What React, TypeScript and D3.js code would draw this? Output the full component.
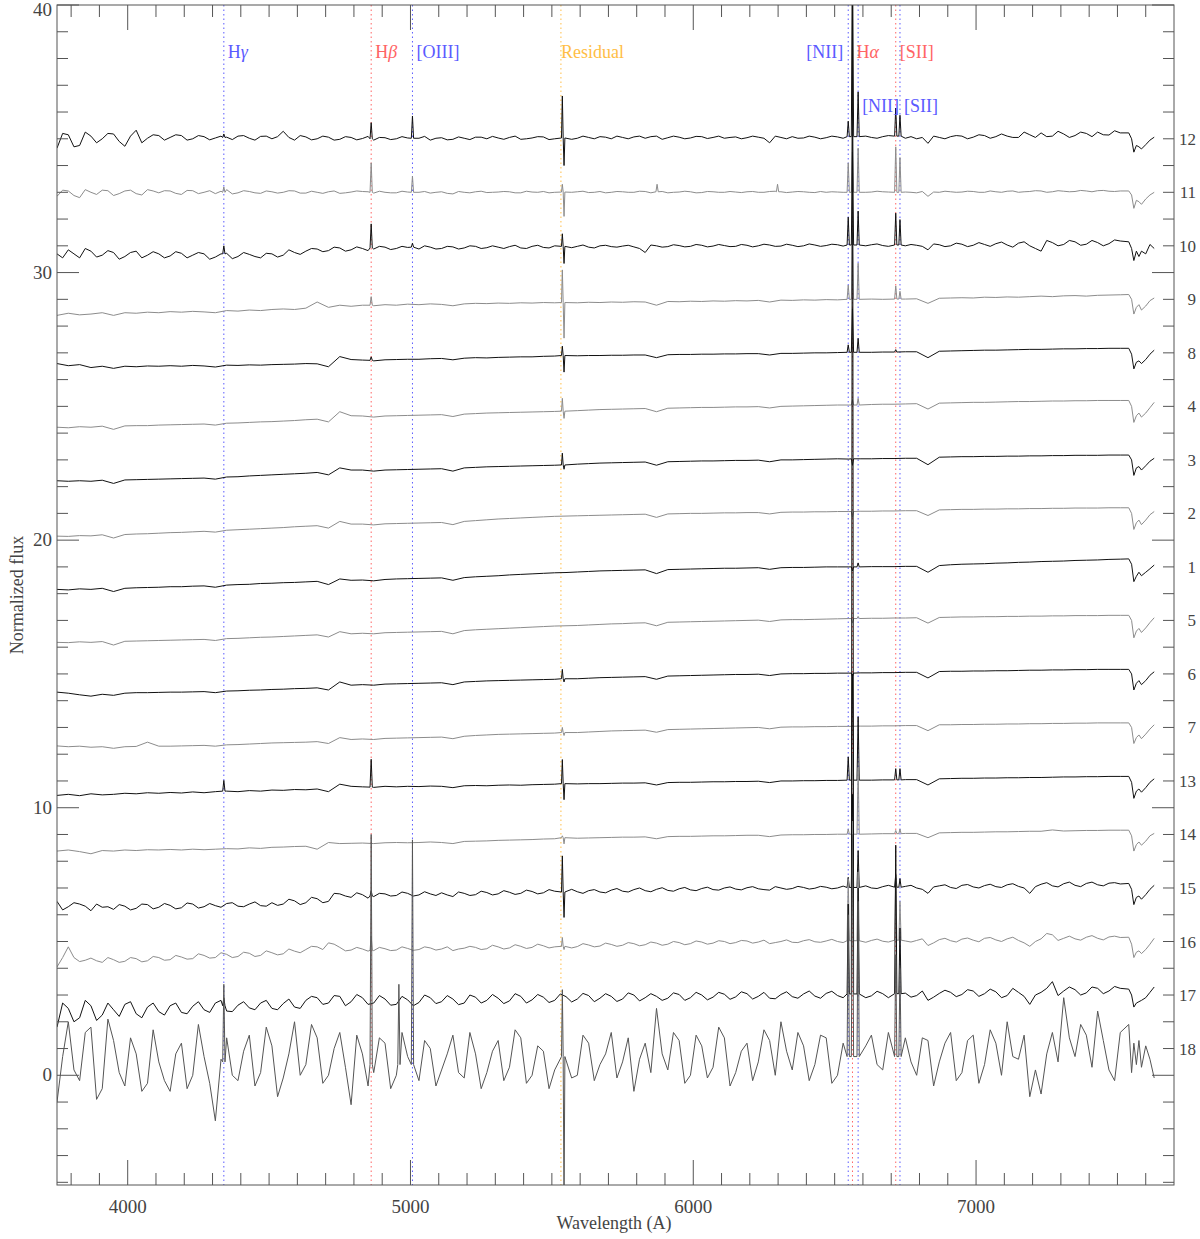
import React from "react";
import * as d3 from "d3";

// wavelength grid (Angstrom) shared by all spectra
const WAVE = [3750,3790,3830,3870,3910,3950,3990,4030,4070,4110,
4150,4190,4230,4270,4310,4350,4390,4430,4470,4510,
4550,4590,4630,4670,4710,4750,4790,4830,4870,4910,
4950,4990,5030,5070,5110,5150,5190,5230,5270,5310,
5350,5390,5430,5470,5510,5550,5590,5630,5670,5710,
5750,5790,5830,5870,5910,5950,5990,6030,6070,6110,
6150,6190,6230,6270,6310,6350,6390,6430,6470,6510,
6550,6590,6630,6670,6710,6750,6790,6830,6870,6910,
6950,6990,7030,7070,7110,7150,7190,7230,7270,7310,
7350,7390,7430,7470,7510,
7540,7550,7558,7567,7576,7585,7600,7615,7630];

// intermediate wavelengths used by the noisier spectra
const WAVE_MID = [3770,3810,3850,3890,3930,3970,4010,4050,4090,4130,
4170,4210,4250,4290,4330,4370,4410,4450,4490,4530,
4570,4610,4650,4690,4730,4770,4810,4850,4890,4930,
4970,5010,5050,5090,5130,5170,5210,5250,5290,5330,
5370,5410,5450,5490,5530,5570,5610,5650,5690,5730,
5770,5810,5850,5890,5930,5970,6010,6050,6090,6130,
6170,6210,6250,6290,6330,6370,6410,6450,6490,6530,
6570,6610,6650,6690,6730,6770,6810,6850,6890,6930,
6970,7010,7050,7090,7130,7170,7210,7250,7290,7330,
7370,7410,7450,7490];

// flux relative to each spectrum's offset
const S12 = [-0.35,0.15,-0.25,0.1,0.0,0.18,-0.28,0.32,0.02,0.12,
0.05,0.12,0.0,0.08,0.03,0.06,0.1,0.02,0.09,0.0,
0.28,-0.05,0.07,0.0,0.06,-0.02,0.05,0.01,-0.05,0.04,
0.0,0.03,0.02,-0.05,0.04,-0.02,0.02,0.06,0.0,0.03,
0.05,-0.02,0.03,0.07,0.0,0.04,0.02,0.05,0.08,0.0,
0.05,0.07,0.02,0.1,0.04,0.06,0.03,0.08,0.05,0.02,
0.07,0.04,0.06,-0.15,0.05,0.08,0.03,0.06,0.04,0.07,
0.08,0.06,0.05,0.08,0.1,0.02,0.0,-0.17,0.05,0.08,
0.1,0.06,0.12,0.08,0.1,0.05,0.15,0.22,0.1,0.18,
0.12,0.2,0.25,0.14,0.22,
0.22,0.0,-0.5,-0.25,-0.3,-0.38,-0.22,-0.05,0.06];
const M12 = [0.2,-0.3,0.25,-0.15,0.2,-0.1,0.1,-0.15,0.15,-0.05,
0.15,-0.05,0.12,-0.04,0.1,-0.03,0.12,-0.05,0.1,0.08,
0.05,0.12,-0.04,0.1,-0.05,0.08,-0.04,0.09,0.05,-0.03,
0.08,-0.04,0.09,0.02,-0.04,0.07,-0.03,0.06,0.09,-0.02,
0.1,0.0,0.08,-0.03,0.09,-0.02,0.1,0.0,0.06,0.1,
0.0,0.1,0.08,-0.02,0.1,0.0,0.09,0.01,0.1,0.05,
0.0,0.1,0.02,0.1,0.0,0.02,0.1,0.0,0.1,0.02,
0.0,0.1,0.02,0.12,0.06,0.08,0.05,0.1,0.0,0.12,
0.0,0.15,0.02,0.18,0.05,0.25,0.05,0.08,0.28,0.05,
0.25,0.08,0.15,0.3];
const S11 = [-0.15,0.05,-0.2,0.0,0.08,-0.12,0.05,-0.05,0.1,-0.02,
0.05,-0.08,0.06,0.0,-0.05,0.1,-0.02,0.03,-0.04,0.02,
0.0,0.05,-0.03,0.0,0.02,-0.04,0.01,0.03,-0.03,0.0,
-0.02,0.01,0.0,-0.03,0.02,-0.06,0.0,0.02,-0.01,0.01,
0.02,-0.02,0.01,0.03,0.0,0.01,0.02,-0.01,0.03,0.0,
0.02,0.0,0.03,0.02,-0.02,0.01,0.02,-0.01,0.02,0.0,
0.01,0.02,0.0,0.03,0.02,0.01,0.02,-0.01,0.0,0.01,
0.02,0.0,0.01,0.02,0.0,0.01,-0.02,-0.15,0.0,0.02,
0.01,0.03,0.0,0.02,0.04,0.0,0.03,0.05,0.02,0.04,
0.03,0.05,0.06,0.04,0.05,
0.05,-0.1,-0.6,-0.3,-0.35,-0.45,-0.25,-0.1,0.0];
const M11 = [0.08,-0.12,0.1,-0.08,0.06,-0.05,0.08,-0.1,0.05,0.06,
-0.04,0.07,-0.05,0.06,0.04,-0.06,0.06,-0.02,0.05,-0.03,
0.06,-0.03,0.04,-0.04,0.05,-0.02,0.05,0.02,0.04,-0.02,
0.04,-0.02,0.03,0.0,-0.04,0.03,-0.02,0.04,0.0,0.03,
-0.02,0.04,0.0,-0.02,0.03,0.0,0.04,0.0,-0.02,0.03,
0.0,0.04,-0.02,0.03,0.0,0.04,-0.02,0.03,0.0,0.03,
-0.01,0.03,0.0,0.04,-0.01,0.03,0.0,0.03,0.02,0.0,
0.03,0.0,0.04,0.01,0.03,0.0,0.03,0.01,0.04,0.0,
0.04,0.0,0.05,0.0,0.05,0.02,0.06,0.0,0.06,0.02,
0.07,0.02,0.07,0.03];
const S10 = [-0.3,-0.15,-0.45,-0.2,-0.35,-0.25,-0.4,-0.2,-0.35,-0.3,
-0.38,-0.28,-0.35,-0.3,-0.42,-0.28,-0.4,-0.32,-0.45,-0.3,
-0.35,-0.25,-0.2,-0.12,-0.18,-0.08,-0.15,-0.1,-0.12,-0.05,
-0.1,-0.06,-0.12,-0.05,-0.1,-0.04,-0.08,-0.02,-0.07,-0.05,
-0.03,-0.08,-0.02,-0.06,0.0,-0.04,-0.02,-0.05,0.0,-0.03,
-0.01,-0.04,-0.25,0.0,-0.03,0.01,-0.02,0.02,-0.01,0.01,
-0.02,0.02,0.0,0.03,-0.01,0.02,0.0,0.03,0.01,0.04,
0.03,0.02,0.04,0.01,0.03,0.0,0.02,-0.15,0.04,0.0,
0.06,0.02,0.05,0.08,0.03,0.1,0.0,-0.2,0.12,0.05,
0.15,0.06,0.12,0.08,0.18,
0.15,-0.1,-0.55,-0.2,-0.4,-0.2,-0.3,0.05,-0.1];
const M10 = [-0.45,-0.3,-0.1,-0.42,-0.18,-0.5,-0.25,-0.45,-0.22,-0.45,
-0.22,-0.45,-0.25,-0.5,-0.3,-0.48,-0.25,-0.4,-0.28,-0.42,
-0.15,-0.32,-0.1,-0.22,-0.05,-0.2,-0.04,-0.18,-0.02,-0.14,
-0.02,-0.14,0.0,-0.12,-0.02,-0.12,0.0,-0.1,0.0,-0.1,
0.02,-0.1,0.02,-0.08,0.03,-0.07,0.03,-0.08,0.02,-0.05,
0.02,-0.1,0.03,-0.05,0.04,-0.04,0.05,-0.04,0.05,-0.03,
0.05,-0.04,0.06,-0.02,0.06,-0.03,0.07,-0.02,0.06,-0.01,
0.06,0.0,0.07,-0.02,0.06,0.05,-0.02,0.07,-0.03,0.1,
-0.03,0.12,-0.02,0.14,-0.05,0.15,-0.1,0.2,0.0,0.2,
0.02,0.2,0.0,0.22];
const S9 = [-0.6,-0.52,-0.58,-0.55,-0.5,-0.6,-0.5,-0.52,-0.48,-0.5,
-0.46,-0.48,-0.45,-0.47,-0.5,-0.42,-0.44,-0.4,-0.42,-0.38,
-0.36,-0.38,-0.33,-0.1,-0.3,-0.22,-0.26,-0.22,-0.24,-0.2,
-0.22,-0.18,-0.2,-0.17,-0.19,-0.24,-0.17,-0.15,-0.16,-0.14,
-0.15,-0.13,-0.14,-0.12,-0.13,-0.12,-0.13,-0.11,-0.12,-0.1,
-0.11,-0.09,-0.1,-0.22,-0.08,-0.09,-0.07,-0.08,-0.06,-0.07,
-0.05,-0.06,-0.04,-0.1,-0.03,-0.04,-0.02,-0.03,-0.01,-0.02,
0.0,0.0,0.01,0.0,0.02,0.01,0.02,-0.15,0.04,0.05,
0.06,0.05,0.08,0.07,0.09,0.08,0.1,0.12,0.1,0.13,
0.14,0.12,0.15,0.16,0.17,
0.18,0.0,-0.55,-0.3,-0.2,-0.4,-0.25,-0.05,0.05];
const S8 = [-0.4,-0.48,-0.44,-0.55,-0.5,-0.58,-0.5,-0.52,-0.49,-0.5,
-0.48,-0.5,-0.47,-0.49,-0.53,-0.46,-0.47,-0.45,-0.46,-0.44,
-0.43,-0.42,-0.4,-0.41,-0.52,-0.14,-0.25,-0.27,-0.3,-0.26,
-0.25,-0.24,-0.24,-0.22,-0.21,-0.26,-0.2,-0.18,-0.19,-0.17,
-0.16,-0.15,-0.15,-0.13,-0.12,-0.12,-0.11,-0.1,-0.1,-0.09,
-0.09,-0.08,-0.08,-0.18,-0.07,-0.06,-0.06,-0.05,-0.05,-0.04,
-0.04,-0.03,-0.03,-0.08,-0.02,-0.02,-0.01,0.0,0.0,0.01,
0.01,0.02,0.02,0.03,0.03,0.04,0.04,-0.18,0.06,0.07,
0.08,0.09,0.1,0.1,0.11,0.12,0.13,0.13,0.14,0.15,
0.15,0.16,0.16,0.17,0.17,
0.17,-0.05,-0.6,-0.35,-0.3,-0.4,-0.25,-0.05,0.1];
const S4 = [-0.78,-0.8,-0.76,-0.78,-0.74,-0.86,-0.73,-0.72,-0.72,-0.7,
-0.69,-0.68,-0.67,-0.66,-0.7,-0.63,-0.62,-0.6,-0.58,-0.57,
-0.55,-0.53,-0.5,-0.48,-0.58,-0.2,-0.35,-0.36,-0.4,-0.36,
-0.35,-0.34,-0.33,-0.32,-0.31,-0.38,-0.29,-0.27,-0.25,-0.24,
-0.23,-0.22,-0.21,-0.2,-0.19,-0.18,-0.16,-0.14,-0.12,-0.11,
-0.1,-0.09,-0.08,-0.2,-0.07,-0.06,-0.05,-0.04,-0.04,-0.03,
-0.02,-0.02,-0.01,-0.06,0.0,0.01,0.02,0.03,0.04,0.05,
0.05,0.06,0.07,0.08,0.08,0.09,0.1,-0.1,0.12,0.13,
0.14,0.15,0.15,0.16,0.17,0.18,0.18,0.19,0.2,0.2,
0.21,0.21,0.22,0.22,0.22,
0.22,0.0,-0.6,-0.35,-0.25,-0.4,-0.25,-0.05,0.15];
const S3 = [-0.78,-0.8,-0.78,-0.8,-0.76,-0.88,-0.75,-0.74,-0.73,-0.72,
-0.71,-0.7,-0.69,-0.68,-0.72,-0.64,-0.63,-0.6,-0.58,-0.56,
-0.54,-0.52,-0.5,-0.47,-0.56,-0.3,-0.38,-0.38,-0.42,-0.38,
-0.37,-0.36,-0.35,-0.34,-0.33,-0.42,-0.3,-0.28,-0.26,-0.25,
-0.24,-0.23,-0.22,-0.21,-0.2,-0.18,-0.16,-0.14,-0.12,-0.11,
-0.1,-0.09,-0.08,-0.2,-0.07,-0.06,-0.05,-0.04,-0.04,-0.03,
-0.02,-0.02,-0.01,-0.07,0.0,0.0,0.01,0.02,0.03,0.04,
0.03,0.04,0.04,0.05,0.05,0.06,0.06,-0.18,0.1,0.11,
0.12,0.12,0.13,0.13,0.14,0.14,0.15,0.15,0.16,0.16,
0.17,0.17,0.17,0.18,0.18,
0.18,0.0,-0.58,-0.3,-0.25,-0.38,-0.22,-0.05,0.06];
const S2 = [-0.85,-0.86,-0.83,-0.84,-0.8,-0.92,-0.79,-0.77,-0.76,-0.74,
-0.72,-0.71,-0.69,-0.67,-0.7,-0.63,-0.61,-0.59,-0.57,-0.55,
-0.53,-0.5,-0.48,-0.46,-0.55,-0.3,-0.4,-0.4,-0.43,-0.39,
-0.38,-0.37,-0.36,-0.35,-0.34,-0.42,-0.3,-0.27,-0.24,-0.21,
-0.19,-0.17,-0.15,-0.13,-0.11,-0.1,-0.09,-0.08,-0.07,-0.06,
-0.05,-0.04,-0.03,-0.15,-0.02,-0.01,0.0,0.0,0.01,0.02,
0.02,0.03,0.03,-0.02,0.04,0.05,0.05,0.06,0.06,0.07,
0.07,0.08,0.08,0.09,0.09,0.1,0.1,-0.08,0.13,0.14,
0.15,0.15,0.16,0.16,0.17,0.17,0.18,0.18,0.19,0.19,
0.2,0.2,0.2,0.21,0.21,
0.21,0.0,-0.6,-0.35,-0.25,-0.42,-0.25,-0.05,0.07];
const S1 = [-0.84,-0.86,-0.82,-0.84,-0.8,-0.92,-0.8,-0.78,-0.77,-0.76,
-0.74,-0.74,-0.72,-0.71,-0.76,-0.68,-0.66,-0.65,-0.62,-0.61,
-0.59,-0.58,-0.56,-0.54,-0.66,-0.45,-0.5,-0.49,-0.52,-0.47,
-0.45,-0.44,-0.43,-0.42,-0.41,-0.5,-0.4,-0.37,-0.35,-0.33,
-0.3,-0.28,-0.26,-0.24,-0.22,-0.21,-0.19,-0.17,-0.15,-0.14,
-0.13,-0.12,-0.11,-0.25,-0.1,-0.09,-0.08,-0.07,-0.06,-0.05,
-0.05,-0.04,-0.03,-0.09,-0.03,-0.02,-0.02,-0.01,0.0,0.0,
0.0,0.0,0.01,0.01,0.01,0.02,0.02,-0.2,0.05,0.08,
0.1,0.11,0.12,0.14,0.15,0.17,0.18,0.2,0.21,0.22,
0.24,0.25,0.26,0.28,0.29,
0.3,0.1,-0.55,-0.35,-0.2,-0.33,-0.2,-0.07,0.07];
const S5 = [-0.82,-0.83,-0.8,-0.82,-0.79,-0.92,-0.78,-0.77,-0.76,-0.75,
-0.74,-0.73,-0.72,-0.71,-0.75,-0.68,-0.67,-0.65,-0.63,-0.62,
-0.6,-0.58,-0.56,-0.54,-0.62,-0.42,-0.5,-0.48,-0.5,-0.46,
-0.45,-0.44,-0.43,-0.42,-0.41,-0.5,-0.38,-0.35,-0.33,-0.31,
-0.29,-0.27,-0.25,-0.23,-0.21,-0.2,-0.19,-0.17,-0.15,-0.13,
-0.12,-0.1,-0.09,-0.2,-0.07,-0.06,-0.05,-0.04,-0.03,-0.02,
-0.01,0.0,0.01,-0.04,0.02,0.03,0.03,0.04,0.05,0.06,
0.07,0.07,0.08,0.08,0.09,0.09,0.1,-0.1,0.11,0.12,
0.13,0.13,0.14,0.14,0.15,0.15,0.16,0.16,0.17,0.17,
0.18,0.18,0.18,0.19,0.19,
0.19,0.0,-0.65,-0.4,-0.3,-0.45,-0.28,-0.08,0.1];
const S6 = [-0.68,-0.72,-0.78,-0.83,-0.76,-0.8,-0.72,-0.7,-0.7,-0.69,
-0.68,-0.68,-0.67,-0.66,-0.7,-0.64,-0.63,-0.61,-0.6,-0.58,
-0.57,-0.55,-0.54,-0.52,-0.6,-0.3,-0.42,-0.4,-0.42,-0.38,
-0.37,-0.36,-0.35,-0.34,-0.33,-0.4,-0.3,-0.28,-0.26,-0.25,
-0.24,-0.23,-0.22,-0.21,-0.2,-0.19,-0.18,-0.16,-0.14,-0.13,
-0.12,-0.11,-0.1,-0.2,-0.08,-0.07,-0.06,-0.05,-0.04,-0.03,
-0.02,-0.02,-0.01,-0.06,0.0,0.01,0.01,0.02,0.02,0.03,
0.03,0.04,0.04,0.05,0.05,0.06,0.06,-0.15,0.09,0.1,
0.1,0.11,0.11,0.12,0.12,0.13,0.14,0.14,0.15,0.15,
0.16,0.16,0.17,0.17,0.17,
0.17,0.0,-0.6,-0.35,-0.25,-0.4,-0.25,-0.05,0.08];
const S7 = [-0.69,-0.72,-0.7,-0.74,-0.72,-0.78,-0.72,-0.71,-0.55,-0.7,
-0.7,-0.69,-0.68,-0.67,-0.7,-0.65,-0.64,-0.62,-0.6,-0.58,
-0.57,-0.56,-0.55,-0.53,-0.6,-0.38,-0.45,-0.43,-0.45,-0.41,
-0.4,-0.39,-0.38,-0.37,-0.36,-0.42,-0.33,-0.3,-0.28,-0.26,
-0.25,-0.24,-0.23,-0.22,-0.21,-0.2,-0.19,-0.17,-0.15,-0.13,
-0.12,-0.11,-0.1,-0.18,-0.08,-0.07,-0.06,-0.05,-0.04,-0.03,
-0.02,-0.01,0.0,-0.05,0.01,0.02,0.02,0.03,0.03,0.04,
0.04,0.05,0.05,0.06,0.06,0.07,0.07,-0.12,0.1,0.1,
0.11,0.11,0.12,0.12,0.13,0.13,0.14,0.14,0.15,0.15,
0.16,0.16,0.17,0.17,0.17,
0.17,0.0,-0.6,-0.38,-0.28,-0.42,-0.25,-0.06,0.1];
const S13 = [-0.54,-0.5,-0.55,-0.48,-0.52,-0.5,-0.46,-0.48,-0.44,-0.46,
-0.43,-0.45,-0.41,-0.44,-0.4,-0.38,-0.4,-0.36,-0.38,-0.34,
-0.35,-0.32,-0.33,-0.3,-0.4,-0.12,-0.2,-0.22,-0.24,-0.2,
-0.22,-0.2,-0.21,-0.19,-0.2,-0.25,-0.18,-0.17,-0.18,-0.16,
-0.15,-0.16,-0.14,-0.13,-0.12,-0.12,-0.11,-0.1,-0.1,-0.09,
-0.08,-0.08,-0.07,-0.15,-0.06,-0.05,-0.05,-0.04,-0.03,-0.03,
-0.02,-0.02,-0.01,-0.06,0.0,0.0,0.01,0.01,0.02,0.02,
0.02,0.03,0.03,0.04,0.04,0.05,0.05,-0.15,0.08,0.09,
0.1,0.1,0.11,0.11,0.12,0.12,0.13,0.13,0.14,0.15,
0.15,0.16,0.16,0.17,0.17,
0.17,-0.05,-0.65,-0.38,-0.3,-0.42,-0.25,-0.05,0.08];
const S14 = [-0.62,-0.58,-0.64,-0.72,-0.6,-0.62,-0.58,-0.6,-0.57,-0.58,
-0.56,-0.58,-0.55,-0.57,-0.55,-0.53,-0.54,-0.5,-0.52,-0.48,
-0.47,-0.45,-0.44,-0.55,-0.3,-0.34,-0.33,-0.32,-0.34,-0.31,
-0.3,-0.31,-0.3,-0.28,-0.3,-0.34,-0.26,-0.25,-0.24,-0.22,
-0.21,-0.2,-0.19,-0.17,-0.16,-0.15,-0.14,-0.13,-0.12,-0.11,
-0.1,-0.1,-0.09,-0.16,-0.08,-0.07,-0.07,-0.06,-0.05,-0.05,
-0.04,-0.03,-0.03,-0.08,-0.02,-0.01,-0.01,0.0,0.0,0.01,
0.01,0.02,0.02,0.03,0.03,0.04,0.04,-0.12,0.06,0.07,
0.08,0.08,0.09,0.1,0.1,0.11,0.12,0.12,0.17,0.13,
0.14,0.15,0.15,0.16,0.16,
0.16,-0.05,-0.62,-0.38,-0.28,-0.4,-0.25,-0.05,0.04];
const S15 = [-0.5,-0.7,-0.6,-0.85,-0.72,-0.8,-0.68,-0.76,-0.62,-0.72,
-0.65,-0.74,-0.6,-0.7,-0.66,-0.58,-0.68,-0.6,-0.66,-0.55,
-0.6,-0.48,-0.55,-0.4,-0.5,-0.22,-0.35,-0.25,-0.32,-0.22,
-0.28,-0.2,-0.26,-0.22,-0.18,-0.32,-0.2,-0.25,-0.17,-0.22,
-0.16,-0.2,-0.13,-0.18,-0.12,-0.17,-0.14,-0.1,-0.15,-0.08,
-0.12,-0.06,-0.1,-0.05,-0.09,-0.03,-0.07,-0.02,-0.06,0.0,
-0.04,0.01,-0.03,-0.08,0.0,-0.02,0.02,-0.01,0.03,0.0,
0.02,0.04,0.0,0.05,0.02,0.06,0.0,-0.2,0.08,0.02,
0.1,0.04,0.09,0.05,0.12,0.06,-0.2,0.14,0.08,0.16,
0.1,0.17,0.12,0.18,0.15,
0.17,-0.05,-0.62,-0.35,-0.3,-0.42,-0.25,-0.05,0.1];
const M15 = [-0.82,-0.55,-0.68,-0.6,-0.7,-0.62,-0.82,-0.6,-0.78,-0.58,
-0.78,-0.56,-0.75,-0.58,-0.72,-0.55,-0.7,-0.52,-0.68,-0.65,
-0.42,-0.62,-0.35,-0.55,-0.2,-0.3,-0.18,-0.38,-0.2,-0.3,
-0.15,-0.3,-0.14,-0.28,-0.26,-0.15,-0.28,-0.12,-0.26,-0.1,
-0.24,-0.08,-0.22,-0.06,-0.2,-0.05,-0.2,-0.06,-0.18,-0.02,
-0.15,0.0,-0.14,0.01,-0.12,0.02,-0.1,0.03,-0.08,0.04,
-0.07,0.05,-0.06,0.05,-0.05,0.06,-0.04,0.06,-0.03,0.07,
-0.03,0.08,-0.02,0.1,-0.02,0.1,-0.05,0.04,0.12,-0.02,
0.13,0.0,0.14,0.02,0.16,0.0,0.05,0.2,0.04,0.22,
0.05,0.22,0.08,0.2];
const S16 = [-0.95,-0.2,-0.75,-0.62,-0.78,-0.68,-0.74,-0.64,-0.72,-0.6,
-0.68,-0.58,-0.64,-0.52,-0.6,-0.48,-0.56,-0.44,-0.52,-0.42,
-0.46,-0.36,-0.3,-0.2,-0.05,-0.22,-0.32,-0.28,-0.34,-0.27,
-0.32,-0.26,-0.3,-0.24,-0.28,-0.34,-0.25,-0.22,-0.27,-0.2,
-0.24,-0.18,-0.22,-0.16,-0.2,-0.15,-0.19,-0.13,-0.17,-0.11,
-0.14,-0.08,-0.12,-0.06,-0.1,-0.04,-0.08,-0.02,-0.06,0.0,
-0.04,0.02,-0.02,-0.08,0.0,-0.03,0.03,-0.01,0.02,0.0,
0.03,0.0,0.04,0.01,0.05,0.02,0.04,-0.15,0.07,0.03,
0.09,0.05,0.12,0.06,0.1,0.04,-0.18,0.1,0.25,0.12,
0.1,0.16,0.12,0.17,0.15,
0.16,-0.1,-0.6,-0.4,-0.35,-0.45,-0.3,-0.1,0.12];
const M16 = [-0.6,-0.6,-0.7,-0.72,-0.6,-0.78,-0.6,-0.76,-0.56,-0.7,
-0.52,-0.66,-0.46,-0.62,-0.42,-0.6,-0.4,-0.56,-0.35,-0.5,
-0.28,-0.42,-0.18,-0.3,-0.1,-0.35,-0.22,-0.36,-0.22,-0.34,
-0.2,-0.33,-0.2,-0.32,-0.2,-0.28,-0.18,-0.3,-0.14,-0.28,
-0.12,-0.26,-0.1,-0.24,-0.1,-0.24,-0.08,-0.2,-0.06,-0.18,
-0.04,-0.16,-0.02,-0.14,0.0,-0.12,0.02,-0.1,0.03,-0.08,
0.04,-0.06,0.05,-0.04,0.06,-0.04,0.07,-0.03,0.08,-0.04,
0.08,-0.03,0.09,-0.02,0.09,-0.02,0.1,-0.05,0.12,-0.02,
0.13,-0.01,0.15,0.0,0.16,-0.05,0.0,0.3,0.04,0.2,
0.05,0.22,0.06,0.2];
const S17 = [-1.2,-0.5,-0.85,-0.4,-0.75,-0.55,-0.35,-0.7,-0.45,-0.62,
-0.4,-0.65,-0.42,-0.55,-0.3,-0.6,-0.38,-0.48,-0.3,-0.5,
-0.32,-0.45,-0.2,-0.1,-0.3,-0.05,-0.25,-0.1,-0.3,-0.15,
-0.35,-0.18,-0.28,-0.1,-0.25,-0.15,-0.3,-0.08,-0.2,-0.12,
-0.22,-0.05,-0.18,-0.08,-0.2,-0.06,-0.15,-0.02,-0.12,-0.05,
-0.15,0.0,-0.1,-0.05,-0.12,0.02,-0.1,0.0,-0.08,0.03,
-0.07,0.05,-0.05,-0.12,0.02,-0.06,0.04,-0.04,0.06,-0.02,
0.04,0.05,-0.03,0.05,0.0,0.07,-0.02,-0.2,0.06,0.1,
0.02,0.15,0.05,0.12,-0.02,0.1,-0.35,0.1,0.5,0.15,
0.2,0.08,0.25,0.15,0.25,
0.22,0.0,-0.45,-0.3,-0.25,-0.2,-0.1,0.1,0.3];
const M17 = [-0.3,-1.0,-0.2,-0.95,-0.3,-0.8,-0.25,-0.85,-0.3,-0.75,
-0.3,-0.7,-0.25,-0.65,-0.2,-0.62,-0.25,-0.55,-0.2,-0.55,
-0.15,-0.5,-0.05,-0.35,-0.02,-0.4,0.02,-0.35,-0.02,-0.38,
-0.05,-0.4,0.0,-0.32,-0.02,-0.36,0.0,-0.3,0.02,-0.32,
0.05,-0.3,0.02,-0.28,0.04,-0.26,0.06,-0.25,0.05,-0.24,
0.08,-0.22,0.05,-0.2,0.08,-0.2,0.1,-0.18,0.1,-0.16,
0.12,-0.15,0.1,-0.14,0.12,-0.12,0.15,-0.12,0.14,-0.1,
0.15,-0.1,0.14,-0.1,0.16,-0.08,0.15,-0.08,0.18,-0.06,
0.2,-0.05,0.22,-0.1,0.25,-0.05,0.0,0.25,-0.02,0.3,
0.0,0.3,0.05,0.32];
const S18 = [-2.0,1.0,-1.2,0.8,-1.5,0.3,-1.4,-0.2,-1.3,-0.5,
-1.6,0.2,-1.0,-0.3,-2.7,0.4,-1.2,0.5,-0.9,0.1,
-1.1,1.0,-0.6,0.4,-1.0,0.6,-2.1,-0.2,-0.9,0.2,
-1.0,-0.3,-1.2,0.0,-0.8,0.5,-1.1,-0.2,-0.9,0.3,
-0.7,0.4,-1.0,-0.1,-0.8,0.5,-1.0,0.2,-0.6,0.6,
-0.5,-1.6,0.2,1.5,-0.8,0.3,-1.0,0.1,-0.7,0.4,
-0.9,0.2,-0.5,0.3,1.0,-0.8,0.1,-0.6,0.4,-1.0,
-0.3,-0.9,0.5,-0.8,0.2,0.4,-1.0,0.3,-0.5,0.6,
-0.9,0.5,-0.6,0.2,1.0,-0.4,-1.8,-1.7,0.6,1.9,
-0.3,0.5,1.4,-0.8,0.6,
0.9,-0.9,0.2,-0.6,0.3,-0.7,0.1,-0.4,-1.1];
const M18 = [-0.3,-0.8,0.6,-1.9,1.1,-0.9,0.4,-1.6,0.7,-1.2,
-0.2,-1.5,0.9,-1.3,-0.4,-1.0,-0.1,-1.4,0.8,-1.8,
-0.2,-1.0,0.9,-1.3,0.0,-0.7,0.5,-1.4,0.4,-1.5,
0.6,-1.6,0.3,-1.4,-0.2,-0.9,0.6,-1.5,-0.1,-1.2,
0.7,-1.3,0.1,-1.5,0.2,-1.1,0.5,-1.2,-0.2,-1.1,
0.4,-0.4,-0.9,-0.2,0.6,-1.3,0.5,-1.1,0.8,-1.4,
-0.1,-1.2,0.7,-1.0,-0.1,0.6,-1.2,0.5,-1.3,0.2,
-1.2,0.1,-0.6,0.6,-1.1,-0.5,0.4,-1.4,0.2,-1.2,
0.3,-1.3,0.7,-1.0,-0.3,0.5,-0.8,-0.2,-0.5,0.4,
0.9,-0.7,0.3,-1.2];

// emission features: [wavelength, local continuum, peak]
const L12 = [[4340,0.05,0.18],[4861,0.0,0.6],[5007,0.02,0.85],[5537,0.03,1.6],[5543,0.03,-1.0],[6548,0.08,0.66],[6563,0.08,7.0],[6583,0.08,1.75],[6716,0.1,1.15],[6731,0.1,0.88]];
const L11 = [[4340,0.0,0.2],[4861,0.0,1.1],[5007,0.0,0.6],[5537,0.01,0.3],[5543,0.01,-0.9],[5872,0.02,0.3],[6298,0.02,0.3],[6548,0.0,1.1],[6563,0.0,3.0],[6583,0.0,1.65],[6716,0.0,1.7],[6731,0.0,1.3]];
const L10 = [[4340,-0.3,0.0],[4861,-0.08,0.82],[5007,-0.05,0.1],[5537,-0.02,0.45],[5543,-0.02,-0.66],[6548,0.03,1.07],[6563,0.03,3.5],[6583,0.03,1.3],[6716,0.03,1.22],[6731,0.03,0.98]];
const L9 = [[4861,-0.22,0.1],[5537,-0.12,1.1],[5543,-0.12,-1.45],[6548,0.0,0.53],[6563,0.0,2.5],[6583,0.0,1.35],[6716,0.01,0.5],[6731,0.01,0.3]];
const L8 = [[4861,-0.28,-0.15],[5537,-0.1,0.25],[5543,-0.1,-0.72],[6548,0.02,0.3],[6563,0.02,1.65],[6583,0.02,0.54],[6716,0.03,0.12]];
const L4 = [[5537,-0.18,0.3],[5543,-0.18,-0.45],[6563,0.05,0.25],[6583,0.05,0.3]];
const L3 = [[5537,-0.19,0.25],[5543,-0.19,-0.35],[6563,0.04,-0.2]];
const L2 = [[6563,0.07,-0.15]];
const L1 = [[6563,0.0,-0.15],[6583,0.0,0.15]];
const L5 = [[6563,0.07,-0.1],[6583,0.07,0.15]];
const L6 = [[5537,-0.18,0.17],[5543,-0.18,-0.3],[6563,0.03,-0.1]];
const L7 = [[5537,-0.19,0.0],[5543,-0.19,-0.3]];
const L13 = [[4340,-0.38,0.02],[4861,-0.23,0.81],[5537,-0.1,0.8],[5543,-0.1,-0.7],[6548,0.03,0.9],[6563,0.03,4.0],[6583,0.03,2.4],[6716,0.04,0.46],[6731,0.04,0.46]];
const L14 = [[5537,-0.12,-0.05],[5543,-0.12,-0.35],[6548,0.01,0.2],[6563,0.01,3.0],[6583,0.01,2.5],[6716,0.03,0.15],[6731,0.03,0.2]];
const L15 = [[4861,-0.3,-0.1],[5537,-0.15,1.2],[5543,-0.15,-1.1],[6548,0.02,0.4],[6563,0.02,3.5],[6583,0.02,1.4],[6716,0.03,0.5],[6731,0.03,0.35]];
const L16 = [[4861,-0.33,0.2],[5537,-0.18,0.15],[5543,-0.18,-0.3],[6548,0.03,2.35],[6563,0.03,4.5],[6583,0.03,2.6],[6716,0.05,2.3],[6731,0.05,1.5]];
const L17 = [[4340,-0.4,-0.1],[6548,0.04,3.4],[6563,0.04,40],[6583,0.04,4.0],[6716,0.05,5.6],[6731,0.05,2.5]];
const L18 = [[4340,-0.5,2.4],[4861,-0.6,8.0],[4959,-0.6,2.4],[5007,-0.6,7.8],[5537,-0.3,2.2],[5543,-0.3,-6.0],[6548,-0.3,5.0],[6563,-0.3,8.0],[6583,-0.3,5.5],[6716,-0.3,3.5],[6731,-0.3,3.0]];

const LABELS = ["12","11","10","9","8","4","3","2","1","5","6","7","13","14","15","16","17","18"];
const OFFSETS = [35,33,31,29,27,25,23,21,19,17,15,13,11,9,7,5,3,1];
const FLUX = [S12,S11,S10,S9,S8,S4,S3,S2,S1,S5,S6,S7,S13,S14,S15,S16,S17,S18];
const FLUX_MID = [M12,M11,M10,null,null,null,null,null,null,null,null,null,null,null,M15,M16,M17,M18];
const FEATURES = [L12,L11,L10,L9,L8,L4,L3,L2,L1,L5,L6,L7,L13,L14,L15,L16,L17,L18];

// marked lines
const MARK_WAVE = [4340,4861,5007,5532,6548,6563,6583,6716,6731];
const MARK_KIND = ["b","r","b","o","b","r","b","r","b"];
const MARK_TEXT = ["Hγ","Hβ","[OIII]","Residual","[NII]","Hα","[NII]","[SII]","[SII]"];
const MARK_ROW = [0,0,0,0,0,0,1,0,1];

const X_MAJOR = [4000,5000,6000,7000];
const Y_MAJOR = [0,10,20,30,40];

const COLORS: Record<string,string> = { b: "#5a5aff", r: "#ff6464", o: "#ffbe46" };
const FONT = "'Liberation Serif', 'DejaVu Serif', serif";

function buildPoints(vals: number[], mids: number[] | null, feats: number[][], off: number): [number, number][] {
  const centers = feats.map(f => f[0]);
  const keep = (w: number) => !centers.some(c => Math.abs(c - w) < 8);
  const base: [number, number][] = [];
  WAVE.forEach((w, i) => { if (keep(w)) base.push([w, vals[i]]); });
  if (mids) WAVE_MID.forEach((w, i) => { if (keep(w)) base.push([w, mids[i]]); });
  const extra: [number, number][] = [];
  feats.forEach(([w, b, p]) => {
    const hw = w > 5530 && w < 5550 ? 3 : 4;
    extra.push([w - hw, b], [w, p], [w + hw, b]);
  });
  return [...base, ...extra].sort((a, b) => a[0] - b[0]).map(([w, d]) => [w, d + off] as [number, number]);
}

export default function App() {
  const L = 57, R = 1174, T = 5, B = 1185;
  const x = d3.scaleLinear().domain([3750, 7700]).range([L, R]);
  const y = d3.scaleLinear().domain([-4.1, 40]).range([B, T]);
  const line = d3.line<[number, number]>().x(d => x(d[0])).y(d => y(d[1]));
  const axisColor = "#555";
  const textColor = "#444";

  const xMinor = d3.range(3800, 7700, 100);
  const yMinor = d3.range(-4, 41, 1);

  return (
    <svg width={1200} height={1239} style={{ position: "absolute", left: 0, top: 0, background: "#fff" }}>
      <defs>
        <clipPath id="plotclip">
          <rect x={L} y={T} width={R - L} height={B - T} />
        </clipPath>
      </defs>
      <rect x={0} y={0} width={1200} height={1239} fill="#fff" />
      {MARK_WAVE.map((w, i) => (
        <line key={"m" + i} x1={x(w)} x2={x(w)} y1={T} y2={B} stroke={COLORS[MARK_KIND[i]]} strokeWidth={1} strokeDasharray="1.5,3" />
      ))}
      <g clipPath="url(#plotclip)">
        {FLUX.map((vals, i) => {
          const color = i === 17 ? "#555" : i % 2 === 0 ? "#111" : "#8c8c8c";
          return (
            <path key={"s" + i} d={line(buildPoints(vals, FLUX_MID[i], FEATURES[i], OFFSETS[i])) || ""} fill="none" stroke={color} strokeWidth={1} strokeLinejoin="round" />
          );
        })}
      </g>
      <rect x={L} y={T} width={R - L} height={B - T} fill="none" stroke={axisColor} strokeWidth={1} />
      {xMinor.map(v => {
        const major = X_MAJOR.includes(v);
        const len = major ? 25 : 12;
        return (
          <g key={"xt" + v} stroke={axisColor} strokeWidth={1}>
            <line x1={x(v)} x2={x(v)} y1={B} y2={B - len} />
            <line x1={x(v)} x2={x(v)} y1={T} y2={T + len} />
          </g>
        );
      })}
      {yMinor.map(v => {
        const major = Y_MAJOR.includes(v);
        const len = major ? 22 : 11;
        return (
          <g key={"yt" + v} stroke={axisColor} strokeWidth={1}>
            <line x1={L} x2={L + len} y1={y(v)} y2={y(v)} />
            <line x1={R} x2={R - len} y1={y(v)} y2={y(v)} />
          </g>
        );
      })}
      {X_MAJOR.map(v => (
        <text key={"xl" + v} x={x(v)} y={1213} textAnchor="middle" fontFamily={FONT} fontSize={19} fill={textColor}>{v}</text>
      ))}
      {Y_MAJOR.map(v => (
        <text key={"yl" + v} x={52} y={v === 40 ? 16 : y(v) + 6} textAnchor="end" fontFamily={FONT} fontSize={19} fill={textColor}>{v}</text>
      ))}
      {LABELS.map((lab, i) => (
        <text key={"rl" + i} x={1196} y={y(OFFSETS[i]) + 6} textAnchor="end" fontFamily={FONT} fontSize={17} fill={textColor}>{lab}</text>
      ))}
      <text x={614} y={1229} textAnchor="middle" fontFamily={FONT} fontSize={18} fill={textColor}>Wavelength (A)</text>
      <text transform="translate(23,595) rotate(-90)" textAnchor="middle" fontFamily={FONT} fontSize={18} fill={textColor}>Normalized flux</text>
      {MARK_WAVE.map((w, i) => {
        const txt = MARK_TEXT[i];
        const isEnd = i === 4;
        const tx = isEnd ? x(w) - 5 : x(w) + (i === 3 ? 0 : 4);
        const ty = MARK_ROW[i] === 0 ? 58 : 112;
        const greek = txt.length === 2 && txt[0] === "H";
        return (
          <text key={"ml" + i} x={tx} y={ty} textAnchor={isEnd ? "end" : "start"} fontFamily={FONT} fontSize={18} fill={COLORS[MARK_KIND[i]]}>
            {greek ? (<>{"H"}<tspan fontStyle="italic">{txt[1]}</tspan></>) : txt}
          </text>
        );
      })}
    </svg>
  );
}
